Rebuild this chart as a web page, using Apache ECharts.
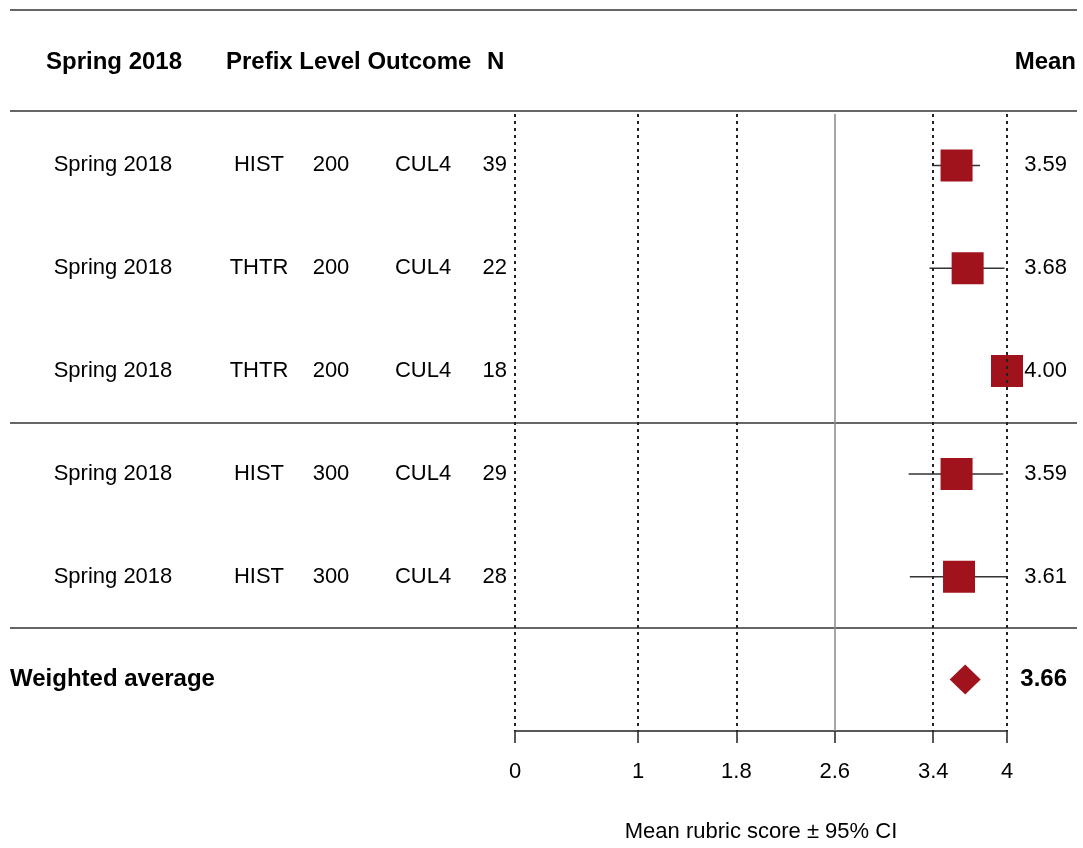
<!DOCTYPE html>
<html>
<head>
<meta charset="utf-8">
<script src="https://cdn.jsdelivr.net/npm/echarts@6/dist/echarts.min.js"></script>
<style>
  html, body { margin: 0; padding: 0; background: #fff; }
  #chart { width: 1083px; height: 848px; }
</style>
</head>
<body>
<div id="chart"></div>
<script>
const terms = ['Spring 2018', 'Spring 2018', 'Spring 2018', 'Spring 2018', 'Spring 2018']
const prefixes = ['HIST', 'THTR', 'THTR', 'HIST', 'HIST']
const levels = ['200', '200', '200', '300', '300']
const outcomes = ['CUL4', 'CUL4', 'CUL4', 'CUL4', 'CUL4']
const counts = [39, 22, 18, 29, 28]
const means = [3.59, 3.68, 4.00, 3.59, 3.61]
const lower = [3.39, 3.37, 4.00, 3.20, 3.21]
const upper = [3.78, 3.98, 4.00, 3.97, 4.00]
const weightedMean = 3.66
const xTicks = [0, 1, 1.8, 2.6, 3.4, 4]
const dottedRefs = [0, 1, 1.8, 3.4, 4]
const solidRef = 2.6

const FONT = "'Liberation Sans', Arial, Helvetica, sans-serif"
const RED = '#A0131C'
const rows = ['r1', 'r2', 'r3', 'r4', 'r5', 'avg']

const chart = echarts.init(document.getElementById('chart'))

const textStyle = (text, x, y, align, bold) => ({
  type: 'text',
  style: {
    text: text,
    x: x,
    y: y,
    align: align,
    verticalAlign: 'middle',
    fill: '#000',
    font: (bold ? 'bold 24px ' : '22px ') + FONT
  }
})

const option = {
  animation: false,
  backgroundColor: '#fff',
  textStyle: { fontFamily: FONT },
  grid: { left: 515, right: 76, top: 114, bottom: 115 },
  xAxis: {
    type: 'value',
    min: 0,
    max: 4,
    name: 'Mean rubric score ± 95% CI',
    nameLocation: 'middle',
    nameGap: 90,
    nameTextStyle: { color: '#000', fontSize: 22, fontFamily: FONT },
    axisLine: { show: true, onZero: false, lineStyle: { color: '#222', width: 1.5 } },
    axisTick: { show: true, length: 12, customValues: xTicks, lineStyle: { color: '#222', width: 1.5 } },
    axisLabel: { customValues: xTicks, color: '#000', fontSize: 22, margin: 30, fontFamily: FONT },
    splitLine: { show: false }
  },
  yAxis: {
    type: 'category',
    data: rows,
    inverse: true,
    show: false
  },
  series: [
    {
      // whiskers
      type: 'custom',
      data: lower.map((l, i) => [l, upper[i], i]),
      encode: { x: [0, 1], y: 2 },
      z: 3,
      renderItem: (params, api) => {
        const a = api.coord([api.value(0), api.value(2)])
        const b = api.coord([api.value(1), api.value(2)])
        return {
          type: 'line',
          shape: { x1: a[0], y1: a[1], x2: b[0], y2: b[1] },
          style: { stroke: '#333', lineWidth: 1.5 }
        }
      }
    },
    {
      type: 'scatter',
      data: means.map((m, i) => [m, i]),
      symbol: 'rect',
      symbolSize: 32,
      itemStyle: { color: RED, opacity: 1 },
      z: 4,
      markLine: {
        silent: true,
        symbol: 'none',
        label: { show: false },
        animation: false,
        data: dottedRefs.map(v => ({
          xAxis: v,
          lineStyle: { color: '#222', width: 2, type: [3, 4] }
        })).concat([{
          xAxis: solidRef,
          lineStyle: { color: '#888', width: 1.5, type: 'solid' }
        }])
      }
    },
    {
      type: 'scatter',
      data: [[weightedMean, 5]],
      symbol: 'diamond',
      symbolSize: [31, 30],
      itemStyle: { color: RED, opacity: 1 },
      z: 4
    },
    {
      // table text
      type: 'custom',
      data: rows.map((r, i) => [0, i]),
      encode: { x: 0, y: 1 },
      clip: false,
      z: 5,
      renderItem: (params, api) => {
        const i = api.value(1)
        const y = api.coord([0, i])[1]
        if (i === 5) {
          return {
            type: 'group',
            children: [
              textStyle('Weighted average', 10, y, 'left', true),
              textStyle(weightedMean.toFixed(2), 1067, y, 'right', true)
            ]
          }
        }
        return {
          type: 'group',
          children: [
            textStyle(terms[i], 113, y, 'center'),
            textStyle(prefixes[i], 259, y, 'center'),
            textStyle(levels[i], 331, y, 'center'),
            textStyle(outcomes[i], 423, y, 'center'),
            textStyle(String(counts[i]), 507, y, 'right'),
            textStyle(means[i].toFixed(2), 1067, y, 'right')
          ]
        }
      }
    }
  ]
}

chart.setOption(option)

// separator lines between row groups
const rowY = i => chart.convertToPixel({ gridIndex: 0 }, [0, i])[1]
const sep1 = Math.round((rowY(2) + rowY(3)) / 2)
const sep2 = Math.round((rowY(4) + rowY(5)) / 2)
const hline = y => ({
  type: 'line',
  shape: { x1: 10, y1: y, x2: 1077, y2: y },
  style: { stroke: '#333', lineWidth: 1.5 }
})

chart.setOption({
  graphic: [
    hline(10),
    hline(111),
    hline(sep1),
    hline(sep2),
    textStyle('Spring 2018', 114, 62, 'center', true),
    textStyle('Prefix Level Outcome', 226, 62, 'left', true),
    textStyle('N', 487, 62, 'left', true),
    textStyle('Mean', 1076, 62, 'right', true)
  ]
})
</script>
</body>
</html>
